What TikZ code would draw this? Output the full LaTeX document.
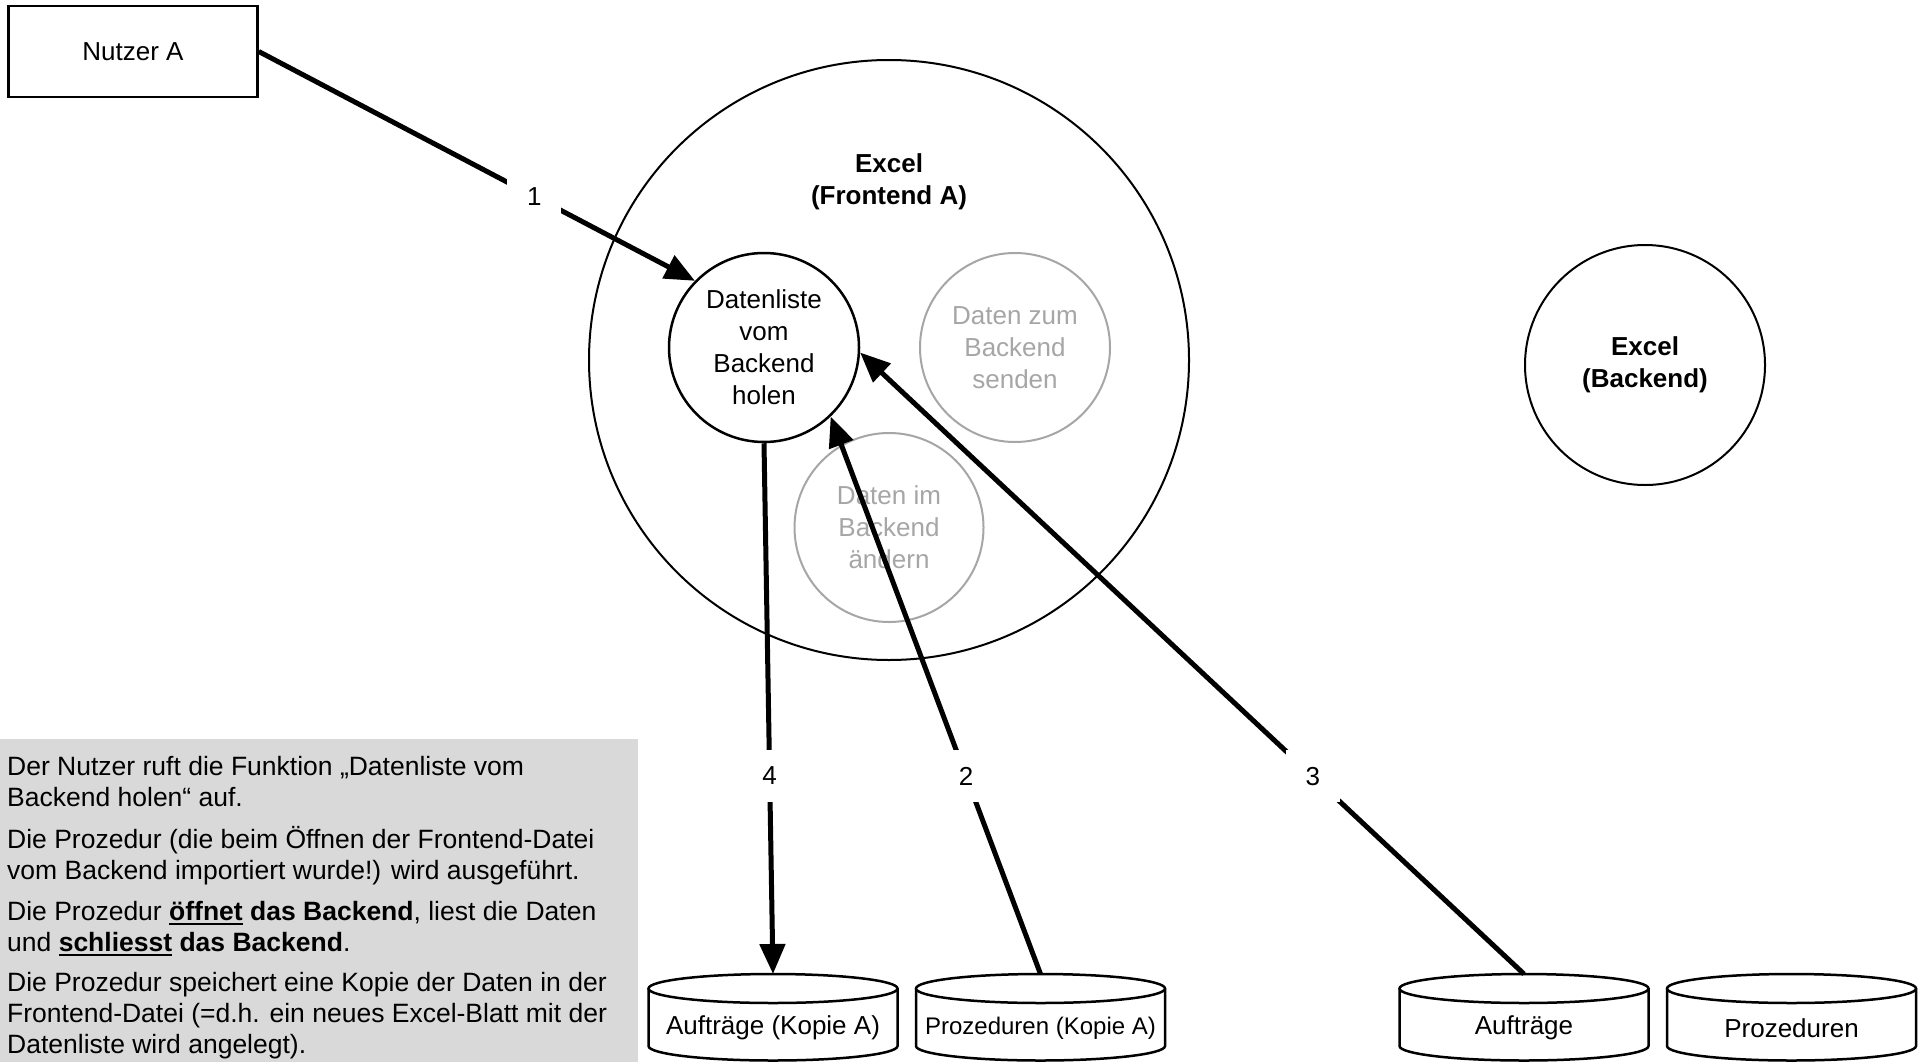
\documentclass[tikz,border=0pt]{standalone}
\usepackage{fontspec}
\setmainfont{Liberation Sans}
\usetikzlibrary{arrows.meta,shapes.geometric}
\definecolor{lgray}{HTML}{A6A6A6}
\definecolor{boxgray}{HTML}{D9D9D9}
\newcommand\myul[1]{\setbox0\hbox{#1}\rlap{\rule[-5pt]{\wd0}{2.5pt}}\box0\relax}
\tikzset{
  txt/.style={font=\fontsize{26}{32}\selectfont},
  infotxt/.style={font=\fontsize{26.5}{31}\selectfont},
  titlefont/.style={font=\fontsize{26}{32}\selectfont\bfseries},
  arr/.style={line width=5pt, -{Triangle[length=30pt,width=25pt]}},
  lbl/.style={txt, fill=white, minimum width=54pt, minimum height=52pt, inner sep=0pt},
  cylline/.style={line width=2.5pt},
  blackell/.style={ellipse, draw, line width=2.5pt, inner sep=0pt, txt, align=center},
  grayell/.style={ellipse, draw=lgray, text=lgray, line width=2pt, inner sep=0pt, txt, align=center},
  infoline/.style={infotxt, anchor=base west, inner sep=0pt}
}
\newcommand\mycylinder[1]{%
  \draw[cylline, fill=white] (#1-124.5,988.5) -- (#1-124.5,1046)
     arc[start angle=180, end angle=0, x radius=124.5, y radius=14.5] -- (#1+124.5,988.5);
  \draw[cylline, fill=white] (#1,988.5) ellipse[x radius=124.5, y radius=14.5];
}
\begin{document}
\begin{tikzpicture}[x=1pt, y=-1pt]
\useasboundingbox (0,0) rectangle (1929,1062);
\fill[white] (0,0) rectangle (1929,1062);

% info box
\fill[boxgray] (0,739) rectangle (638,1062);
\node[infoline] (t1) at (7,775) {Der Nutzer ruft die Funktion „Datenliste vom};
\node[infoline] (t2) at (7,806) {Backend holen“ auf.};
\node[infoline] (t3) at (7,848) {Die Prozedur (die beim Öffnen der Frontend-Datei};
\node[infoline] (t4) at (7,879) {vom Backend importiert wurde!) wird ausgeführt.};
\node[infoline] (t5) at (7,920) {Die Prozedur \myul{\textbf{öffnet}} \textbf{das Backend}, liest die Daten};
\node[infoline] (t6) at (7,951) {und \myul{\textbf{schliesst}} \textbf{das Backend}.};
\node[infoline] (t7) at (7,991) {Die Prozedur speichert eine Kopie der Daten in der};
\node[infoline] (t8) at (7,1022) {Frontend-Datei (=d.h. ein neues Excel-Blatt mit der};
\node[infoline] (t9) at (7,1053) {Datenliste wird angelegt).};

% user
\node[draw, line width=2.5pt, minimum width=249pt, minimum height=91pt, txt] (nutzer) at (133,51.5) {Nutzer A};

% frontend
\node[circle, draw, line width=2pt, minimum size=600pt, inner sep=0pt] (fe) at (889,360) {};
\node[titlefont, align=center] (fetitle) at (889,182) {Excel\\(Frontend A)};
\node[blackell, minimum width=190pt, minimum height=189pt] (dl) at (764,347.5) {Datenliste\\vom\\Backend\\holen};
\node[grayell, minimum width=190pt, minimum height=189pt] (dz) at (1015,347.5) {Daten zum\\Backend\\senden};
\node[grayell, minimum width=189pt, minimum height=189pt] (di) at (889,527.5) {Daten im\\Backend\\ändern};

% backend
\node[circle, draw, line width=2pt, minimum size=240pt, inner sep=0pt, titlefont, align=center] (be) at (1645,365) {Excel\\(Backend)};

% cylinders
\mycylinder{773}
\mycylinder{1040.5}
\mycylinder{1524}
\mycylinder{1791.5}
\node[txt] (c1) at (773,1028) {Aufträge (Kopie A)};
\node[font=\fontsize{24}{29}\selectfont] (c2) at (1040.5,1028) {Prozeduren (Kopie A)};
\node[txt] (c3) at (1524,1028) {Aufträge};
\node[txt] (c4) at (1791.5,1028) {Prozeduren};
\coordinate (c1top) at (773,974);
\coordinate (c2top) at (1040.5,974);
\coordinate (c3top) at (1524,974);

% arrows
\draw[arr] (nutzer.east) -- node[lbl, pos=0.632] (l1) {1} (dl.136);
\draw[arr] (dl.south) -- node[lbl, pos=0.627] (l4) {4} (c1top);
\draw[arr] (c2top) -- node[lbl, pos=0.355] (l2) {2} (dl.-46);
\draw[arr] (c3top) -- node[lbl, pos=0.318] (l3) {3} (dl.-3);
\end{tikzpicture}
\end{document}
